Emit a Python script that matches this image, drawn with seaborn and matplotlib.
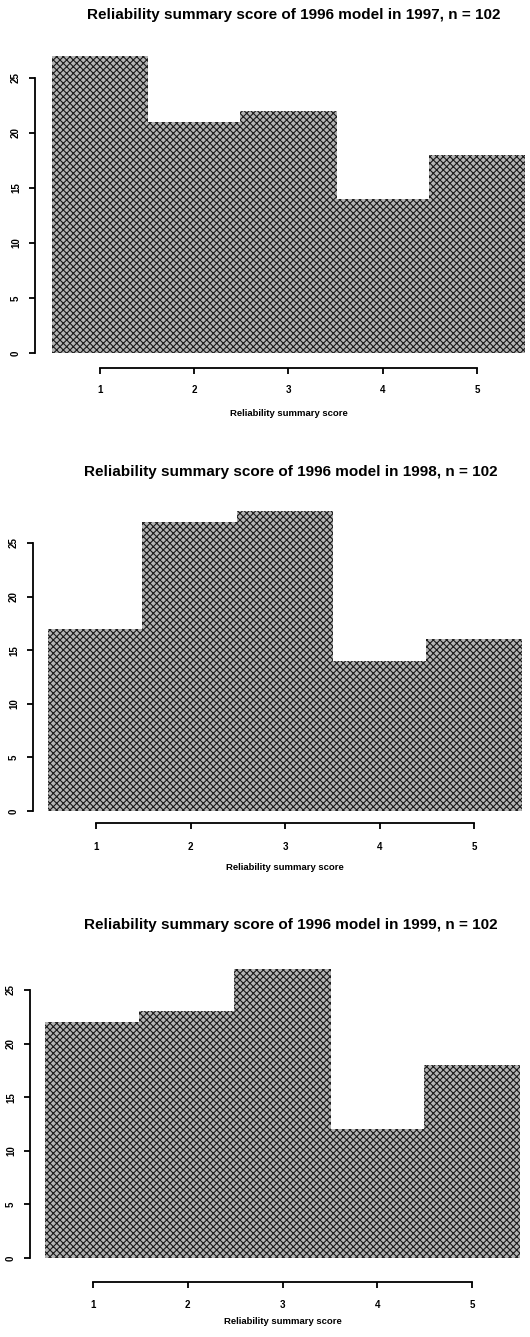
import matplotlib
matplotlib.use("Agg")
import matplotlib.pyplot as plt
import seaborn as sns
import pandas as pd

sns.set_theme(style="white")
plt.rcParams['font.family'] = ['Liberation Sans', 'DejaVu Sans']
plt.rcParams['hatch.linewidth'] = 0.8
plt.rcParams['text.color'] = 'black'
plt.rcParams['xtick.color'] = 'black'
plt.rcParams['ytick.color'] = 'black'

scores = [1, 2, 3, 4, 5]
counts_1997 = [27, 21, 22, 14, 18]
counts_1998 = [17, 27, 28, 14, 16]
counts_1999 = [22, 23, 27, 12, 18]
years = [1997, 1998, 1999]
y_ticks = [0, 5, 10, 15, 20, 25]
title_fmt = "Reliability summary score of 1996 model in {}, n = 102"
xlabel = "Reliability summary score"

W, H = 530, 1337
fig = plt.figure(figsize=(W / 100, H / 100), dpi=100)

# per panel layout in pixels
panels = [
    dict(spine_x=35, x1=100, x5=477, y0=353, y25=78, axis_y=368, top=45,
         title_y=15, title_x=294, tl_y=388, xl_y=414),
    dict(spine_x=33, x1=96, x5=474, y0=811, y25=543, axis_y=823, top=500,
         title_y=472, title_x=291, tl_y=845, xl_y=867),
    dict(spine_x=30, x1=93, x5=472, y0=1258, y25=990, axis_y=1282, top=950,
         title_y=925, title_x=291, tl_y=1303, xl_y=1321),
]
all_counts = [counts_1997, counts_1998, counts_1999]

for p, counts, yr in zip(panels, all_counts, years):
    left, right = p['spine_x'], W
    top, bottom = p['top'], p['axis_y']
    ax = fig.add_axes([left / W, 1 - bottom / H, (right - left) / W, (bottom - top) / H])
    pxu = (p['x5'] - p['x1']) / 4.0
    pyu = (p['y0'] - p['y25']) / 25.0
    xlo = 1 - (p['x1'] - left) / pxu
    xhi = 1 + (right - p['x1']) / pxu
    ylo = -(bottom - p['y0']) / pyu
    yhi = (p['y0'] - top) / pyu
    df = pd.DataFrame({"score": scores, "count": counts})
    sns.histplot(data=df, x="score", weights="count", discrete=True, shrink=1.02,
                 facecolor="#b4b4b4", edgecolor="#1a1a1a", linewidth=0, alpha=1,
                 hatch="xxxxx", ax=ax)
    ax.set_xlim(xlo, xhi)
    ax.set_ylim(ylo, yhi)
    for s in ['top', 'right']:
        ax.spines[s].set_visible(False)
    for s in ['left', 'bottom']:
        ax.spines[s].set_color('black')
        ax.spines[s].set_linewidth(1.3)
    ax.spines['left'].set_bounds(0, 25)
    ax.spines['bottom'].set_bounds(1, 5)
    ax.set_xticks(scores)
    ax.set_yticks(y_ticks)
    ax.set_xticklabels([str(s) for s in scores], fontsize=7, fontweight='bold')
    ax.set_yticklabels([str(t) for t in y_ticks], fontsize=7, fontweight='bold',
                       rotation=90, va='center')
    ax.tick_params(axis='both', direction='out', length=4, width=1.3, color='black',
                   labelcolor='black', bottom=True, left=True)
    ax.tick_params(axis='x', pad=p['tl_y'] - p['axis_y'] - 12)
    ax.tick_params(axis='y', pad=6)
    ax.set_xlabel("")
    ax.set_ylabel("")
    ax.patch.set_alpha(0)
    fig.text(p['title_x'] / W, 1 - p['title_y'] / H, title_fmt.format(yr),
             ha='center', va='center', fontsize=11, fontweight='bold', color='black')
    fig.text((p['x1'] + p['x5']) / 2 / W, 1 - p['xl_y'] / H, xlabel,
             ha='center', va='center', fontsize=6.8, fontweight='bold', color='black')

fig.savefig("out.png", dpi=100, facecolor='white')
